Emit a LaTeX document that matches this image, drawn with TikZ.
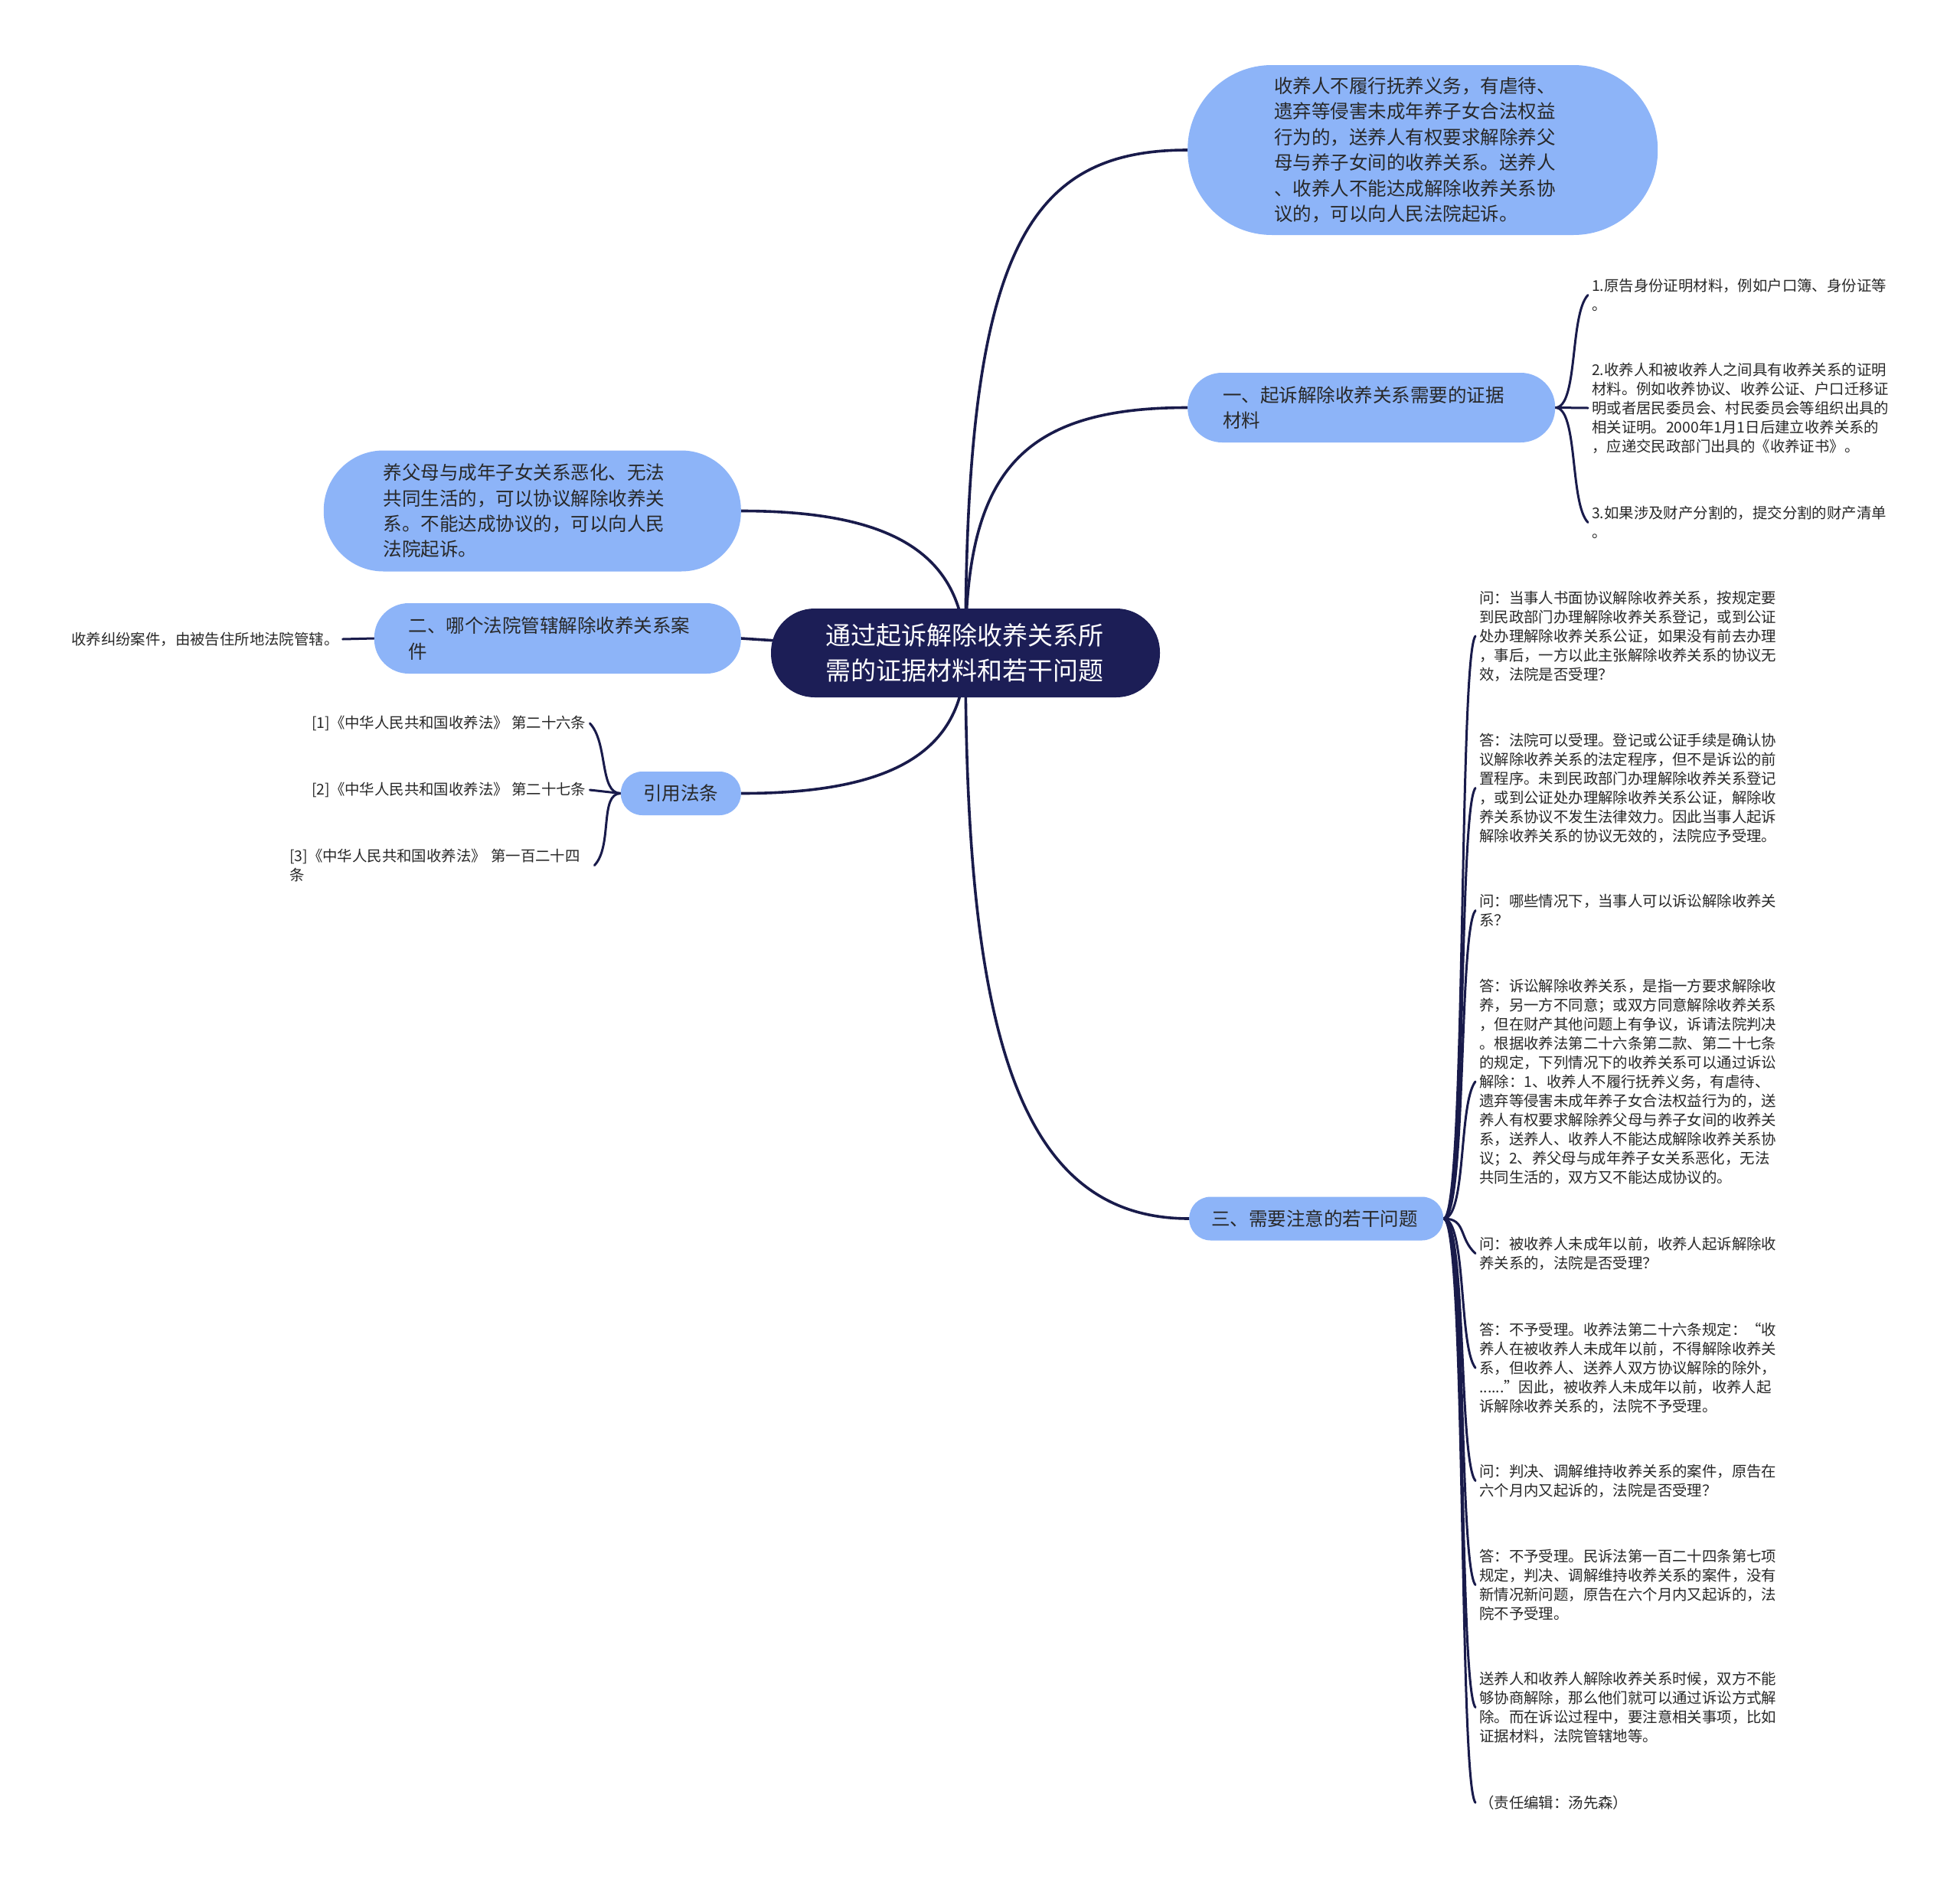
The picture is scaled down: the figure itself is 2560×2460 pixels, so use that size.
\documentclass[tikz,border=0pt]{standalone}
\usepackage{fontspec}
\newfontfamily\cjk{Noto Sans CJK SC}
\usetikzlibrary{backgrounds}
\definecolor{bub}{RGB}{141,180,248}
\definecolor{navy}{RGB}{28,30,86}
\definecolor{lnk}{RGB}{25,27,75}
\definecolor{txt}{RGB}{40,40,40}
\tikzset{
 bubble/.style={fill=bub, draw=none, inner xsep=0pt, inner ysep=0pt, align=left, text=txt, font=\cjk\fontsize{24.5}{33.4}\selectfont},
 leaf/.style={inner xsep=5pt, inner ysep=0pt, align=left, text=txt, font=\cjk\fontsize{19.4}{25}\selectfont},
 conn/.style={draw=lnk, line width=3pt, line cap=round},
 mainconn/.style={draw=lnk, line width=3.6pt, line cap=round},
}
\begin{document}
\begin{tikzpicture}[x=1pt,y=-1pt]
\useasboundingbox (0,0) rectangle (2560,2460);

% central node
\node[bubble, fill=navy, text=white, font=\cjk\fontsize{33}{46}\selectfont, rounded corners=57pt, minimum width=508pt, minimum height=116pt, text width=366pt] (c) at (1261,853) {通过起诉解除收养关系所\\需的证据材料和若干问题};

% right branches
\node[bubble, rounded corners=110pt, minimum width=614pt, minimum height=222pt, text width=388pt, anchor=west] (top) at (1551,196) {收养人不履行抚养义务，有虐待、\\遗弃等侵害未成年养子女合法权益\\行为的，送养人有权要求解除养父\\母与养子女间的收养关系。送养人\\、收养人不能达成解除收养关系协\\议的，可以向人民法院起诉。};

\node[bubble, rounded corners=45pt, minimum width=480pt, minimum height=91pt, text width=388pt, anchor=west] (b1) at (1551,532.5) {一、起诉解除收养关系需要的证据\\材料};

\node[bubble, rounded corners=28pt, minimum width=332pt, minimum height=57pt, text width=274pt, anchor=west] (b3) at (1553,1592) {三、需要注意的若干问题};

% left branches
\node[bubble, rounded corners=78pt, minimum width=545pt, minimum height=158pt, text width=389pt, anchor=east] (lb) at (968,667.5) {养父母与成年子女关系恶化、无法\\共同生活的，可以协议解除收养关\\系。不能达成协议的，可以向人民\\法院起诉。};

\node[bubble, rounded corners=45pt, minimum width=479pt, minimum height=92pt, text width=389pt, anchor=east] (b2) at (968,834) {二、哪个法院管辖解除收养关系案\\件};

\node[bubble, rounded corners=28pt, minimum width=157pt, minimum height=57pt, text width=98pt, anchor=east] (ref) at (968,1036.5) {引用法条};

% leaves of branch 1
\node[leaf, anchor=west] (l1a) at (2074,385.5) {1.原告身份证明材料，例如户口簿、身份证等\\。};
\node[leaf, anchor=west] (l1b) at (2074,533) {2.收养人和被收养人之间具有收养关系的证明\\材料。例如收养协议、收养公证、户口迁移证\\明或者居民委员会、村民委员会等组织出具的\\相关证明。2000年1月1日后建立收养关系的\\，应递交民政部门出具的《收养证书》。};
\node[leaf, anchor=west] (l1c) at (2074,682.5) {3.如果涉及财产分割的，提交分割的财产清单\\。};

% leaves of branch 3
\node[leaf, anchor=west] (q1) at (1927,831) {问：当事人书面协议解除收养关系，按规定要\\到民政部门办理解除收养关系登记，或到公证\\处办理解除收养关系公证，如果没有前去办理\\，事后，一方以此主张解除收养关系的协议无\\效，法院是否受理？};
\node[leaf, anchor=west] (a1) at (1927,1029.5) {答：法院可以受理。登记或公证手续是确认协\\议解除收养关系的法定程序，但不是诉讼的前\\置程序。未到民政部门办理解除收养关系登记\\，或到公证处办理解除收养关系公证，解除收\\养关系协议不发生法律效力。因此当事人起诉\\解除收养关系的协议无效的，法院应予受理。};
\node[leaf, anchor=west] (q2) at (1927,1189.5) {问：哪些情况下，当事人可以诉讼解除收养关\\系？};
\node[leaf, anchor=west] (a2) at (1927,1413) {答：诉讼解除收养关系，是指一方要求解除收\\养，另一方不同意；或双方同意解除收养关系\\，但在财产其他问题上有争议，诉请法院判决\\。根据收养法第二十六条第二款、第二十七条\\的规定，下列情况下的收养关系可以通过诉讼\\解除：1、收养人不履行抚养义务，有虐待、\\遗弃等侵害未成年养子女合法权益行为的，送\\养人有权要求解除养父母与养子女间的收养关\\系，送养人、收养人不能达成解除收养关系协\\议；2、养父母与成年养子女关系恶化，无法\\共同生活的，双方又不能达成协议的。};
\node[leaf, anchor=west] (q3) at (1927,1637.5) {问：被收养人未成年以前，收养人起诉解除收\\养关系的，法院是否受理？};
\node[leaf, anchor=west] (a3) at (1927,1787) {答：不予受理。收养法第二十六条规定：“收\\养人在被收养人未成年以前，不得解除收养关\\系，但收养人、送养人双方协议解除的除外，\\......”因此，被收养人未成年以前，收养人起\\诉解除收养关系的，法院不予受理。};
\node[leaf, anchor=west] (q4) at (1927,1934.5) {问：判决、调解维持收养关系的案件，原告在\\六个月内又起诉的，法院是否受理？};
\node[leaf, anchor=west] (a4) at (1927,2070.5) {答：不予受理。民诉法第一百二十四条第七项\\规定，判决、调解维持收养关系的案件，没有\\新情况新问题，原告在六个月内又起诉的，法\\院不予受理。};
\node[leaf, anchor=west] (p5) at (1927,2230.5) {送养人和收养人解除收养关系时候，双方不能\\够协商解除，那么他们就可以通过诉讼方式解\\除。而在诉讼过程中，要注意相关事项，比如\\证据材料，法院管辖地等。};
\node[leaf, anchor=west] (ed) at (1927,2355) {（责任编辑：汤先森）};

% leaf of branch 2
\node[leaf, anchor=west] (jur) at (88,835) {收养纠纷案件，由被告住所地法院管辖。};

% leaves of citations
\node[leaf, anchor=west] (r1) at (402,945) {[1]《中华人民共和国收养法》 第二十六条};
\node[leaf, anchor=west] (r2) at (402,1032) {[2]《中华人民共和国收养法》 第二十七条};
\node[leaf, anchor=west, text width=393pt] (r3) at (373,1130.5) {[3]《中华人民共和国收养法》 第一百二十四\\条};

\begin{pgfonlayer}{background}
\fill[white] (0,0) rectangle (2560,2460);
% main connectors
\draw[mainconn] (c.center) .. controls (1261,330) and (1340,196) .. (top.west);
\draw[mainconn] (c.center) .. controls (1261,620) and (1330,532.5) .. (b1.west);
\draw[mainconn] (c.center) .. controls (1261,1350) and (1330,1592) .. (b3.west);
\draw[mainconn] (c.center) .. controls (1258,720) and (1160,667.5) .. (lb.east);
\draw[mainconn] (c.center) -- (b2.east);
\draw[mainconn] (c.center) .. controls (1261,980) and (1170,1036.5) .. (ref.east);
% branch 1 leaves
\draw[conn] (b1.east) .. controls +(30,0) and +(-24,25) .. (l1a.west);
\draw[conn] (b1.east) -- (l1b.west);
\draw[conn] (b1.east) .. controls +(30,0) and +(-24,-25) .. (l1c.west);
% branch 3 leaves
\draw[conn] (b3.east) .. controls +(30,0) and +(-22,28) .. (q1.west);
\draw[conn] (b3.east) .. controls +(30,0) and +(-22,28) .. (a1.west);
\draw[conn] (b3.east) .. controls +(30,0) and +(-22,28) .. (q2.west);
\draw[conn] (b3.east) .. controls +(30,0) and +(-22,28) .. (a2.west);
\draw[conn] (b3.east) .. controls +(30,0) and +(-22,-20) .. (q3.west);
\draw[conn] (b3.east) .. controls +(30,0) and +(-22,-28) .. (a3.west);
\draw[conn] (b3.east) .. controls +(30,0) and +(-22,-28) .. (q4.west);
\draw[conn] (b3.east) .. controls +(30,0) and +(-22,-28) .. (a4.west);
\draw[conn] (b3.east) .. controls +(30,0) and +(-22,-28) .. (p5.west);
\draw[conn] (b3.east) .. controls +(30,0) and +(-22,-28) .. (ed.west);
% branch 2 leaf
\draw[conn] (b2.west) -- (jur.east);
% citation leaves
\draw[conn] (ref.west) .. controls +(-28,0) and +(24,25) .. (r1.east);
\draw[conn] (ref.west) -- (r2.east);
\draw[conn] (ref.west) .. controls +(-28,0) and +(24,-25) .. (r3.east);
\end{pgfonlayer}
\end{tikzpicture}
\end{document}
